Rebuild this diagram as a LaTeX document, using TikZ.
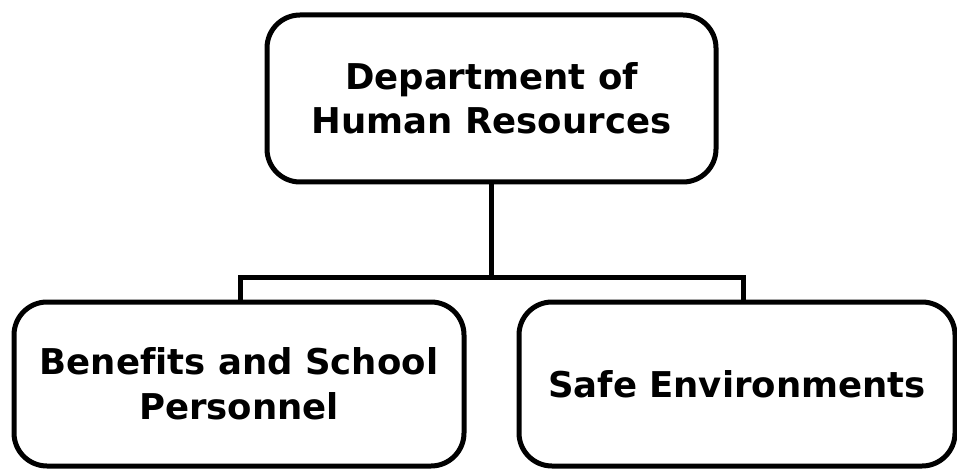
\documentclass[tikz,border=0pt]{standalone}
\usepackage{fontspec}
\setmainfont[Ligatures=NoCommon]{DejaVu Sans}
\begin{document}
\begin{tikzpicture}[x=1pt,y=-1pt,
  orgbox/.style={draw=black, line width=5pt, rounded corners=33pt, fill=white,
    align=center, font=\bfseries\fontsize{35.5}{44.5}\selectfont, inner sep=0pt},
  link/.style={draw=black, line width=5pt}]
\useasboundingbox (0,0) rectangle (957,470);
\fill[white] (0,0) rectangle (957,470);
\node[orgbox, minimum width=449pt, minimum height=167pt] (dhr) at (491.5,98.5) {Department of\\Human Resources};
\node[orgbox, minimum width=450pt, minimum height=164pt] (ben) at (239,384) {Benefits and School\\Personnel};
\node[orgbox, minimum width=436pt, minimum height=164pt] (safe) at (737,384) {Safe Environments};
\coordinate (j) at (491.5,277);
\draw[link] (dhr.south) -- (j);
\draw[link] (ben.north) ++(1,0) |- (j) -| ([xshift=6pt]safe.north);
\end{tikzpicture}
\end{document}
